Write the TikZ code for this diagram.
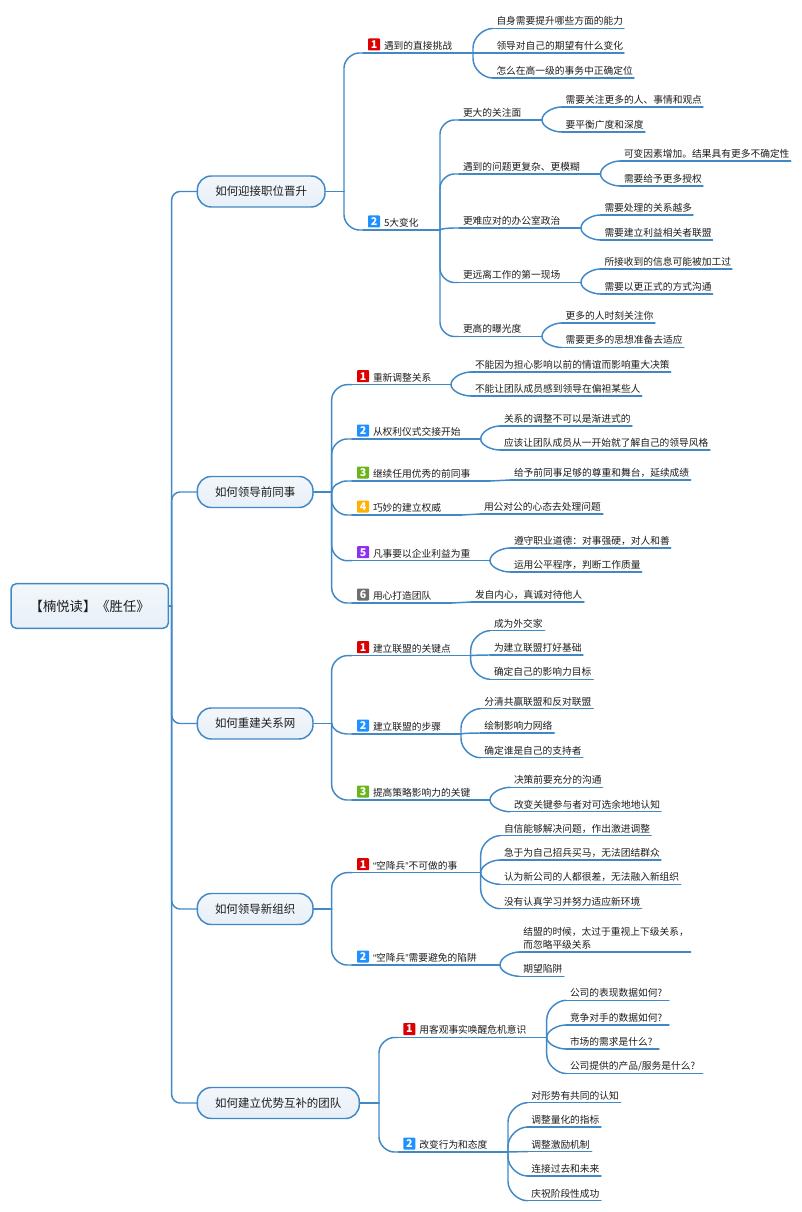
\documentclass[tikz,border=0pt]{standalone}
\usepackage{fontspec}
\usetikzlibrary{calc}
\setmainfont{Noto Sans CJK SC}
\newfontfamily\qf{Liberation Sans}
\definecolor{linec}{HTML}{4088C6}
\definecolor{fillt}{HTML}{F3F7FB}
\definecolor{fillb}{HTML}{E7EFF8}
\definecolor{txtc}{HTML}{1C1C1C}
\definecolor{ic1}{HTML}{DC0000}
\definecolor{ic2}{HTML}{1E90FF}
\definecolor{ic3}{HTML}{6CB41C}
\definecolor{ic4}{HTML}{FFB000}
\definecolor{ic5}{HTML}{8E30F0}
\definecolor{ic6}{HTML}{6E6E6E}
\tikzset{
  conn/.style={draw=linec,line width=1.1pt,line cap=round},
  boxed/.style={draw=linec,line width=1.1pt,top color=fillt,bottom color=fillb,text=txtc,inner sep=0pt,outer sep=0pt},
  topicbox/.style={boxed,rounded corners=10.5pt,font=\fontsize{8.6}{11}\selectfont},
  rootbox/.style={boxed,rounded corners=4pt,font=\fontsize{10}{12}\selectfont},
  lab/.style={anchor=south west,inner sep=0pt,outer sep=0pt,align=left,text=txtc,font=\fontsize{7.3}{9.75}\selectfont},
  iconbox/.style={anchor=south west,inner sep=0pt,outer sep=0pt,minimum size=9pt,rounded corners=.6pt,text=white,font=\fontsize{8}{8}\selectfont\bfseries},
}
% topic: name, x0, x1, ymid, text
\newcommand\topicnode[5][topicbox]{%
  \pgfmathsetmacro\cx{(#3+#4)/2}%
  \pgfmathsetlengthmacro\tw{(#4-#3)*.75pt}%
  \node[#1,minimum width=\tw,minimum height=23.25pt] (#2) at (\cx,#5) {\raisebox{-.8pt}{\Topictext}};%
}
\newcommand\ind{\hspace*{3pt}}
% leaf: name, text x, end x, line y, text
\newcommand\lf[5]{%
  \pgfmathsetmacro\xo{#2-4}%
  \pgfmathsetlengthmacro\tw{(#3-#2+4)*.75pt}%
  \node[lab,text width=\tw] (#1) at (\xo,#4) {\ind #5\rule[-2.7pt]{0pt}{2.7pt}};%
  \draw[conn] (#1.south west) -- (#1.south east);%
}
% numbered sub: name, line start x, end x, line y, number, text
\newcommand\sbn[6]{%
  \pgfmathsetlengthmacro\tw{(#3-#2)*.75pt}%
  \pgfmathsetmacro\xi{#2+5}%
  \pgfmathsetmacro\yi{#4-2.5}%
  \node[lab,text width=\tw] (#1) at (#2,#4) {\hspace*{15.75pt}#6\rule[-2.7pt]{0pt}{2.7pt}};%
  \node[iconbox,fill=ic#5] (#1i) at (\xi,\yi) {#5};%
  \draw[conn] (#1.south west) -- (#1.south east);%
}
% branch: [corner], from, to
\newcommand\br[3][20]{%
  \draw[conn] let \p1=(#2),\p2=(#3),
    \n1={min(\x2-\x1,#1*.75pt)},
    \n2={min(abs(\y2-\y1),\n1)},
    \n3={\y2>\y1?1:-1} in
    (\p1) -- (\x1,\y2-\n3*\n2) .. controls (\x1,\y2-\n3*0.45*\n2) and (\x1+0.55*\n1,\y2) .. (\x1+\n1,\y2) -- (\p2);%
}
\newcommand\ql{{\qf “}}
\newcommand\qr{{\qf ”}}
\begin{document}
\begin{tikzpicture}[x=.75pt,y=-.75pt]
\useasboundingbox (0,0) rectangle (802,1212);
% main bar
\coordinate (mb) at (171.7,606);
\coordinate (b1) at (344,191.5);
\coordinate (b2) at (331.7,492);
\coordinate (b3) at (331.7,723.5);
\coordinate (b4) at (331.7,909);
\coordinate (b5) at (379,1103);

% ---------- Topic 1
\sbn{a1}{363}{473}{53}{1}{遇到的直接挑战}
\lf{a11}{496.5}{624}{28.5}{自身需要提升哪些方面的能力}
\lf{a12}{496.5}{624}{53}{领导对自己的期望有什么变化}
\lf{a13}{496.5}{634}{78}{怎么在高一级的事务中正确定位}
\sbn{a2}{363}{440}{230}{2}{5大变化}
\lf{c1}{463}{542}{120}{更大的关注面}
\lf{c11}{565.7}{703}{107}{需要关注更多的人、事情和观点}
\lf{c12}{565.7}{645}{132}{要平衡广度和深度}
\lf{c2}{463}{600.5}{174}{遇到的问题更复杂、更模糊}
\lf{c21}{624}{790.7}{161}{可变因素增加。结果具有更多不确定性}
\lf{c22}{624}{703}{186}{需要给予更多授权}
\lf{c3}{463}{581}{228}{更难应对的办公室政治}
\lf{c31}{604.5}{693}{215}{需要处理的关系越多}
\lf{c32}{604.5}{712.6}{240}{需要建立利益相关者联盟}
\lf{c4}{463}{581}{282.5}{更远离工作的第一现场}
\lf{c41}{604.5}{732}{269}{所接收到的信息可能被加工过}
\lf{c42}{604.5}{712.6}{294}{需要以更正式的方式沟通}
\lf{c5}{463}{542}{336.5}{更高的曝光度}
\lf{c51}{565.7}{655}{323}{更多的人时刻关注你}
\lf{c52}{565.7}{684}{347.5}{需要更多的思想准备去适应}

% ---------- Topic 2
\sbn{d1}{352}{451}{384.7}{1}{重新调整关系}
\lf{d11}{475}{670.7}{372}{不能因为担心影响以前的情谊而影响重大决策}
\lf{d12}{475}{641.7}{396}{不能让团队成员感到领导在偏袒某些人}
\sbn{d2}{352}{480.7}{439}{2}{从权利仪式交接开始}
\lf{d21}{504}{632}{426}{关系的调整不可以是渐进式的}
\lf{d22}{504}{710}{450}{应该让团队成员从一开始就了解自己的领导风格}
\sbn{d3}{352}{490}{481}{3}{继续任用优秀的前同事}
\lf{d31}{514}{690.7}{480}{给予前同事足够的尊重和舞台，延续成绩}
\sbn{d4}{352}{461.7}{515}{4}{巧妙的建立权威}
\lf{d41}{484}{603}{514}{用公对公的心态去处理问题}
\sbn{d5}{352}{490}{560.7}{5}{凡事要以企业利益为重}
\lf{d51}{514}{670.7}{548}{遵守职业道德：对事强硬，对人和善}
\lf{d52}{514}{641.7}{572}{运用公平程序，判断工作质量}
\sbn{d6}{352}{451.7}{603}{6}{用心打造团队}
\lf{d61}{475}{584}{602}{发自内心，真诚对待他人}

% ---------- Topic 3
\sbn{e1}{352}{470.7}{655.7}{1}{建立联盟的关键点}
\lf{e11}{494}{544.7}{630.7}{成为外交家}
\lf{e12}{494}{583}{655}{为建立联盟打好基础}
\lf{e13}{494}{593.3}{679.3}{确定自己的影响力目标}
\sbn{e2}{352}{461}{734}{2}{建立联盟的步骤}
\lf{e21}{484.3}{593.3}{708.7}{分清共赢联盟和反对联盟}
\lf{e22}{484.3}{554.3}{733}{绘制影响力网络}
\lf{e23}{484.3}{583}{757.7}{确定谁是自己的支持者}
\sbn{e3}{352}{490}{800}{3}{提高策略影响力的关键}
\lf{e31}{514}{602.7}{787.3}{决策前要充分的沟通}
\lf{e32}{514}{661}{811.7}{改变关键参与者对可选余地地认知}

% ---------- Topic 4
\sbn{f1}{352}{480.7}{872.7}{1}{\ql 空降兵\qr 不可做的事}
\lf{f11}{504}{651.3}{835.7}{自信能够解决问题，作出激进调整}
\lf{f12}{504}{661}{860}{急于为自己招兵买马，无法团结群众}
\lf{f13}{504}{680.7}{884.3}{认为新公司的人都很差，无法融入新组织}
\lf{f14}{504}{641.7}{908.7}{没有认真学习并努力适应新环境}
\sbn{f2}{352}{500}{965}{2}{\ql 空降兵\qr 需要避免的陷阱}
\lf{f21}{523.3}{690.7}{952}{结盟的时候，太过于重视上下级关系，\\\ind 而忽略平级关系}
\lf{f22}{523.3}{564}{976.3}{期望陷阱}

% ---------- Topic 5
\sbn{g1}{398.3}{546.7}{1037.5}{1}{用客观事实唤醒危机意识}
\lf{g11}{570}{669}{1000.3}{公司的表现数据如何?}
\lf{g12}{570}{669}{1025}{竞争对手的数据如何?}
\lf{g13}{570}{659}{1049}{市场的需求是什么?}
\lf{g14}{570}{702.7}{1073.5}{公司提供的产品/服务是什么?}
\sbn{g2}{398.3}{508}{1152}{2}{改变行为和态度}
\lf{g21}{531.3}{620.7}{1102.7}{对形势有共同的认知}
\lf{g22}{531.3}{601}{1127}{调整量化的指标}
\lf{g23}{531.3}{591.7}{1151.7}{调整激励机制}
\lf{g24}{531.3}{601}{1176}{连接过去和未来}
\lf{g25}{531.3}{601}{1200.7}{庆祝阶段性成功}

% ---------- Branches
\br[15]{b1}{a1.south west}
\br[15]{b1}{a2.south west}
\br{a1.south east}{a11.south west}
\br{a1.south east}{a12.south west}
\br{a1.south east}{a13.south west}
\br[14]{a2.south east}{c1.south west}
\br[14]{a2.south east}{c2.south west}
\br[14]{a2.south east}{c3.south west}
\br[14]{a2.south east}{c4.south west}
\br[14]{a2.south east}{c5.south west}
\foreach \ma/\ua/\va in {c1/c11/c12,c2/c21/c22,c3/c31/c32,c4/c41/c42,c5/c51/c52,d1/d11/d12,d2/d21/d22,d5/d51/d52,e3/e31/e32}{
  \br{\ma.south east}{\ua.south west}
  \br{\ma.south east}{\va.south west}
}
\foreach \ca in {d1,d2,d3,d4,d5,d6}{\br[15]{b2}{\ca.south west}}
\draw[conn] (d3.south east) -- (d31.south west);
\draw[conn] (d4.south east) -- (d41.south west);
\draw[conn] (d6.south east) -- (d61.south west);
\foreach \ca in {e1,e2,e3}{\br[15]{b3}{\ca.south west}}
\foreach \ca in {e11,e12,e13}{\br{e1.south east}{\ca.south west}}
\foreach \ca in {e21,e22,e23}{\br{e2.south east}{\ca.south west}}
\foreach \ca in {f1,f2}{\br[15]{b4}{\ca.south west}}
\foreach \ca in {f11,f12,f13,f14}{\br{f1.south east}{\ca.south west}}
\foreach \ca in {f21,f22}{\br{f2.south east}{\ca.south west}}
\foreach \ca in {g1,g2}{\br[15]{b5}{\ca.south west}}
\foreach \ca in {g11,g12,g13,g14}{\br{g1.south east}{\ca.south west}}
\foreach \ca in {g21,g22,g23,g24,g25}{\br{g2.south east}{\ca.south west}}

% ---------- Topics & root
\def\Topictext{如何迎接职位晋升}\topicnode{t1}{197.3}{325}{191.5}
\def\Topictext{如何领导前同事}\topicnode{t2}{197.3}{313}{492}
\def\Topictext{如何重建关系网}\topicnode{t3}{197.3}{313}{723.5}
\def\Topictext{如何领导新组织}\topicnode{t4}{197.3}{313}{909}
\def\Topictext{如何建立优势互补的团队}\topicnode{t5}{197.3}{359.3}{1103}
\node[rootbox,minimum width=118pt,minimum height=33.5pt] (root) at (89.7,606) {\raisebox{-.8pt}{【楠悦读】《胜任》}};

\draw[conn] (root.east) -- (mb);
\foreach \ca in {t1,t2,t3,t4,t5}{\br[8]{mb}{\ca.west}}
\draw[conn] (t1.east) -- (b1);
\draw[conn] (t2.east) -- (b2);
\draw[conn] (t3.east) -- (b3);
\draw[conn] (t4.east) -- (b4);
\draw[conn] (t5.east) -- (b5);
\end{tikzpicture}
\end{document}
